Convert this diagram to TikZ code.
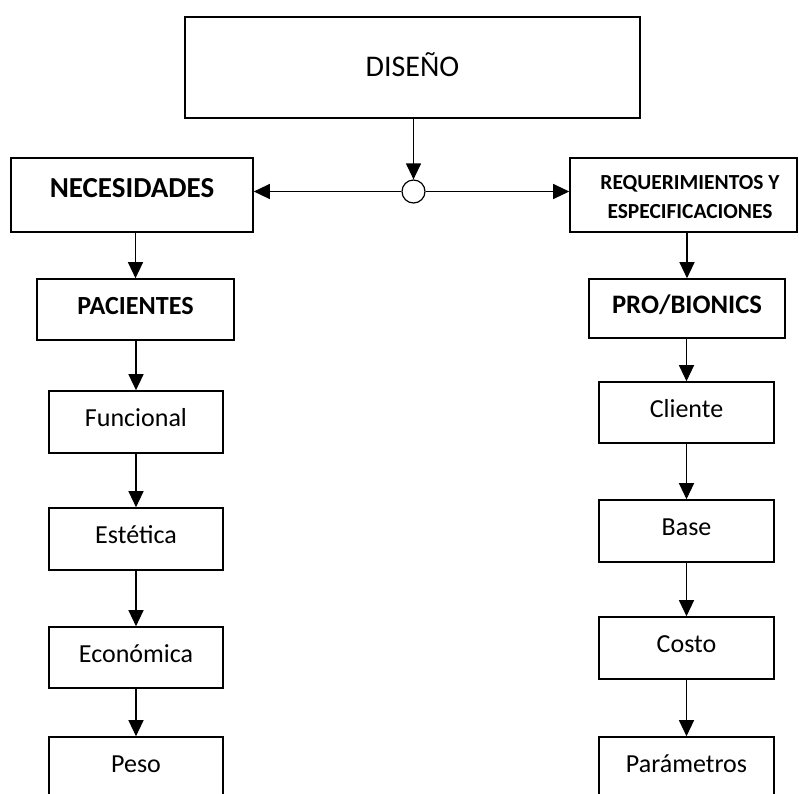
\documentclass[tikz,border=0pt]{standalone}
\usepackage{fontspec}
\setmainfont{Carlito}
\usetikzlibrary{arrows.meta,shapes.geometric}
\newdimen\pxu \pxu=0.75pt
\begin{document}
\begin{tikzpicture}[x=0.75pt,y=-0.75pt,
  box/.style={draw, line width=1.6\pxu, rectangle, inner sep=0pt, text height=0.75em, text depth=0.06em},
  reg/.style={font=\fontsize{19.5}{23}\selectfont},
  conn/.style={line width=1.2\pxu, -{Triangle[width=11.25pt,length=12pt]}},
  hub/.style={draw, circle, line width=1.2\pxu, inner sep=0pt, minimum size=23\pxu}
]
\useasboundingbox (0,0) rectangle (799,793);
\clip (0,0) rectangle (799,793);

% top
\node[box, minimum width=455\pxu, minimum height=101\pxu, font=\fontsize{22.5}{26}\selectfont, text height=1.3em, text depth=0.01em] (dis) at (412.5,67.5) {DISEÑO};
\node[hub] (hub) at (413.5,191.5) {};
\node[box, minimum width=242\pxu, minimum height=74\pxu, font=\fontsize{21.75}{26}\selectfont\bfseries, text height=0.62em, text depth=0.32em] (nec) at (132,195) {NECESIDADES};
\node[box, minimum width=227\pxu, minimum height=74\pxu] (req) at (683.5,195) {};
\node[inner sep=0pt, align=center, font=\fontsize{16.1}{21.75}\selectfont\bfseries] (reqt) at (690,197.5) {REQUERIMIENTOS Y\\ESPECIFICACIONES};

% left column
\node[box, minimum width=197\pxu, minimum height=61\pxu, font=\fontsize{19.6}{23}\selectfont\bfseries] (pac) at (135.5,309.5) {PACIENTES};
\node[box, reg, minimum width=174\pxu, minimum height=62\pxu] (fun) at (136,422) {Funcional};
\node[box, reg, minimum width=174\pxu, minimum height=62\pxu] (est) at (136,539) {Estética};
\node[box, reg, minimum width=174\pxu, minimum height=61\pxu] (eco) at (136,657.5) {Económica};
\node[box, reg, minimum width=174\pxu, minimum height=62\pxu] (pes) at (136,768) {Peso};

% right column
\node[box, minimum width=196\pxu, minimum height=59\pxu, font=\fontsize{20}{24}\selectfont\bfseries] (pro) at (687,308.5) {PRO/BIONICS};
\node[box, reg, minimum width=175\pxu, minimum height=61\pxu] (cli) at (686.5,412.5) {Cliente};
\node[box, reg, minimum width=175\pxu, minimum height=62\pxu] (bas) at (686.5,531) {Base};
\node[box, reg, minimum width=175\pxu, minimum height=62\pxu] (cos) at (686.5,648) {Costo};
\node[box, reg, minimum width=175\pxu, minimum height=62\pxu] (par) at (686.5,768) {Parámetros};

% connectors
\draw[conn] (dis.south -| hub.north) -- (hub.north);
\draw[conn] (hub.west) -- (hub.west -| nec.east);
\draw[conn] (hub.east) -- (hub.east -| req.west);

\draw[conn] (pac.north |- nec.south) -- (pac.north);
\draw[conn] (pac.south -| fun.north) -- (fun.north);
\draw[conn] (fun) -- (est);
\draw[conn] (est) -- (eco);
\draw[conn] (eco) -- (pes);

\draw[conn] (pro.north |- req.south) -- (pro.north);
\draw[conn] (pro.south -| cli.north) -- (cli.north);
\draw[conn] (cli) -- (bas);
\draw[conn] (bas) -- (cos);
\draw[conn] (cos) -- (par);
\end{tikzpicture}
\end{document}
